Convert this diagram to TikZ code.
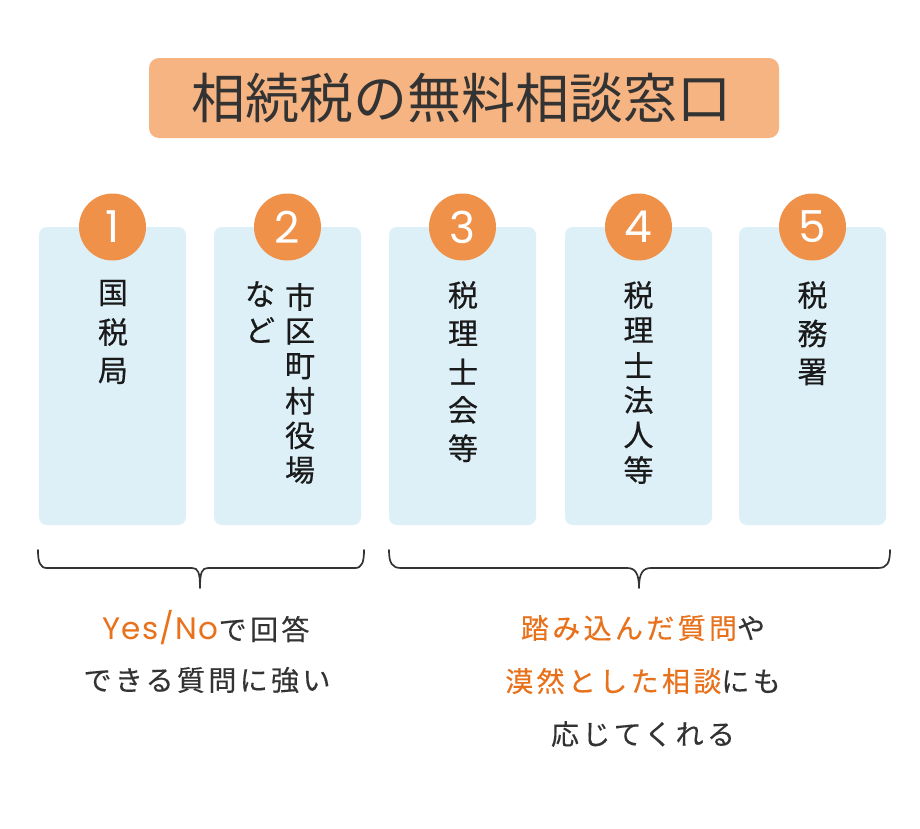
\documentclass[tikz,border=0pt]{standalone}
\usepackage{fontspec}
\setmainfont{Noto Sans CJK JP}
\newfontfamily\numfont{Poppins}
\definecolor{titlefill}{HTML}{F6B482}
\definecolor{circfill}{HTML}{F0914A}
\definecolor{boxfill}{HTML}{DDF0F8}
\definecolor{accent}{HTML}{E8721C}
\definecolor{darktext}{HTML}{333333}
\definecolor{vtext}{HTML}{1A1A1A}
\tikzset{
  titlebox/.style={fill=titlefill, rounded corners=10pt},
  colbox/.style={fill=boxfill, rounded corners=8pt},
  numcirc/.style={circle, fill=circfill, minimum size=67pt, inner sep=0pt,
    text=white, font=\numfont\fontsize{44}{44}\selectfont},
  vchar/.style={inner sep=0pt, text=vtext, font=\fontsize{30}{30}\selectfont\addfontfeature{FakeBold=0.5}},
  bline/.style={inner sep=0pt, text=darktext,
    font=\fontsize{28}{28}\selectfont\addfontfeature{LetterSpace=12,FakeBold=0.3}},
  brace/.style={draw=darktext, line width=1.7pt, line cap=round, line join=round}
}
\begin{document}
\begin{tikzpicture}[x=1pt,y=-1pt]
\useasboundingbox[fill=white] (0,0) rectangle (920,828);
% title
\fill[titlebox] (149,58) rectangle (779,138);
\node[inner sep=0pt, text=darktext, font=\fontsize{54}{54}\selectfont] (title) at (461,98) {相続税の無料相談窓口};
% column boxes
\fill[colbox] (39,227) rectangle (186,525);
\fill[colbox] (214,227) rectangle (361,525);
\fill[colbox] (389,227) rectangle (536,525);
\fill[colbox] (565,227) rectangle (712,525);
\fill[colbox] (739,227) rectangle (886,525);
% numbered circles
\node[numcirc] (n1) at (112.5,227) {1};
\node[numcirc] (n2) at (287.5,227) {2};
\node[numcirc] (n3) at (462.5,227) {3};
\node[numcirc] (n4) at (638.5,227) {4};
\node[numcirc] (n5) at (812.5,227) {5};
% vertical texts
\foreach \c [count=\i] in {国,税,局}
  \node[vchar] (a\i) at (113,{293+39*(\i-1)}) {\c};
\foreach \c [count=\i] in {市,区,町,村,役,場}
  \node[vchar] (b\i) at (300,{297+34.6*(\i-1)}) {\c};
\foreach \c [count=\i] in {な,ど}
  \node[vchar] (bb\i) at (260,{294+36*(\i-1)}) {\c};
\foreach \c [count=\i] in {税,理,士,会,等}
  \node[vchar] (c\i) at (463,{295+38.3*(\i-1)}) {\c};
\foreach \c [count=\i] in {税,理,士,法,人,等}
  \node[vchar] (d\i) at (638.5,{295+35*(\i-1)}) {\c};
\foreach \c [count=\i] in {税,務,署}
  \node[vchar] (e\i) at (812.5,{295+38.5*(\i-1)}) {\c};
% braces
\draw[brace] (38,550) .. controls (38,562) and (40,568) .. (47,568) -- (192,568)
  .. controls (198,568) and (200,572) .. (200,588)
  .. controls (200,572) and (202,568) .. (208,568) -- (355,568)
  .. controls (362,568) and (364,562) .. (364,550);
\draw[brace] (389,550) .. controls (389,563) and (392,568) .. (401,568) -- (627,568)
  .. controls (635,568) and (639,573) .. (639,588)
  .. controls (639,573) and (643,568) .. (651,568) -- (878,568)
  .. controls (887,568) and (890,563) .. (890,550);
% bottom texts
\node[bline] (l1) at (206,628) {{\color{accent}\numfont\addfontfeature{LetterSpace=4}\fontsize{31}{31}\selectfont Yes/No}で回答};
\node[bline] (l2) at (207,680) {できる質問に強い};
\node[bline] (r1) at (643,628) {{\color{accent}踏み込んだ質問}や};
\node[bline] (r2) at (643,681) {{\color{accent}漠然とした相談}にも};
\node[bline] (r3) at (643,734) {応じてくれる};
\end{tikzpicture}
\end{document}
